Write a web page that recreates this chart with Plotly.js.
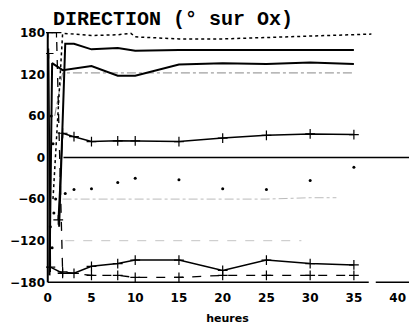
<!DOCTYPE html>
<html>
<head>
<meta charset="utf-8">
<script src="https://cdn.plot.ly/plotly-3.0.1.min.js"></script>
<style>html,body{margin:0;padding:0;background:#fff;}#chart{width:409px;height:327px;}</style>
</head>
<body>
<div id="chart"></div>
<script>
// hours (x) and direction in degrees (y)
const xTicks = [0, 5, 10, 15, 20, 25, 30, 35, 40];
const yTicks = [180, 120, 60, 0, -60, -120, -180];

const hA = [0.6, 1.7, 3, 5, 8, 9.5, 10, 15, 20, 25, 30, 35, 37];
const vA = [-60, 179, 178, 176, 177, 179, 174, 171, 171, 173, 176, 178, 178];

const hB = [1.3, 2, 3, 5, 8, 10, 15, 20, 25, 30, 35];
const vB = [-100, 164, 164, 156, 158, 154, 155, 155, 155, 156, 155];

const hC = [0.2, 0.5, 1.7, 5, 8, 10, 15, 20, 25, 30, 35];
const vC = [-170, 136, 126, 132, 118, 118, 134, 136, 135, 137, 135];

const hD = [0.8, 1.7, 2, 3, 5, 10, 15, 20, 25, 30, 35];
const vD = [60, 122, 122, 122, 122, 122, 122, 122, 123, 122, 122];

const hE = [1.2, 1.7, 3, 5, 8, 10, 15, 20, 25, 30, 35];
const vE = [-90, 35, 30, 23, 24, 24, 23, 28, 32, 34, 33];

const hZero = [1.8, 41.3];
const vZero = [0, 0];

const hG = [0.3, 0.5, 0.7, 0.9, 0.4, 0.6, 2, 3, 5, 8, 10, 15, 20, 25, 30, 35];
const vG = [-100, -130, -80, -60, 60, 20, -52, -46, -45, -36, -30, -32, -45, -46, -33, -14];

const hH = [1.7, 5, 8, 10, 15, 20, 25, 30, 33];
const vH = [-60, -60, -60, -60, -60, -60, -60, -58, -58];

const hH2 = [2, 5, 10, 15, 20, 25, 29];
const vH2 = [-120, -120, -120, -120, -120, -120, -120];

const hI = [0.1, 0.3, 1.7, 3, 5, 8, 10, 15, 20, 25, 30, 35];
const vI = [150, -158, -167, -167, -157, -153, -148, -148, -163, -148, -153, -155];

const hJ = [0, 1, 1.7, 5, 8, 10, 15, 20, 25, 30, 35];
const vJ = [180, 180, -165, -170, -170, -173, -173, -170, -170, -170, -170];

const hK = [0, 36.7, null, 37.5, 41.3];
const vK = [-180, -180, null, -180, -180];

const hL = [0, 0];
const vL = [-180, 180];

const cross = {symbol: 'cross-thin-open', size: 7, color: '#000', line: {width: 1.2, color: '#000'}};

const traces = [
  {x: hL, y: vL, mode: 'lines', line: {color: '#000', width: 2}},
  {x: hK, y: vK, mode: 'lines', line: {color: '#000', width: 1.5}, connectgaps: false},
  {x: hH, y: vH, mode: 'lines', line: {color: '#bbb', width: 1, dash: 'dashdot'}},
  {x: hH2, y: vH2, mode: 'lines', line: {color: '#c4c4c4', width: 1, dash: 'dash'}},
  {x: hD, y: vD, mode: 'lines', line: {color: '#888', width: 1, dash: 'dashdot'}},
  {x: hZero, y: vZero, mode: 'lines', line: {color: '#000', width: 1.5}},
  {x: hA, y: vA, mode: 'lines', line: {color: '#000', width: 1.5, dash: 'dot'}},
  {x: hB, y: vB, mode: 'lines', line: {color: '#000', width: 2}},
  {x: hC, y: vC, mode: 'lines', line: {color: '#000', width: 2}},
  {x: hE, y: vE, mode: 'lines+markers', line: {color: '#000', width: 1.5}, marker: cross},
  {x: hG, y: vG, mode: 'markers', marker: {symbol: 'circle', size: 3, color: '#000'}},
  {x: hI, y: vI, mode: 'lines+markers', line: {color: '#000', width: 1.5}, marker: cross},
  {x: hJ, y: vJ, mode: 'lines+markers', line: {color: '#000', width: 1.3, dash: 'dash'}, marker: cross}
];

const tickFont = {family: 'DejaVu Sans', size: 12, color: '#000', weight: 'bold'};

const layout = {
  width: 409, height: 327,
  margin: {l: 46, r: 0, t: 32, b: 44},
  paper_bgcolor: '#fff', plot_bgcolor: '#fff',
  showlegend: false,
  title: {text: 'DIRECTION (° sur Ox)', x: 0.423, xanchor: 'center', xref: 'container',
          y: 0.945, yanchor: 'middle', yref: 'container',
          font: {family: 'Liberation Mono', size: 20, color: '#000', weight: 'bold'}},
  xaxis: {range: [-0.2, 41.3], tickvals: xTicks, ticktext: xTicks.map(String),
          showgrid: false, zeroline: false, showline: false,
          ticks: 'outside', ticklen: 4, tickcolor: 'rgba(0,0,0,0)', tickfont: tickFont,
          title: {text: 'heures', standoff: 9, font: {family: 'DejaVu Sans', size: 11, color: '#000', weight: 'bold'}}},
  yaxis: {range: [-181, 181], tickvals: yTicks, ticktext: yTicks.map(v => v < 0 ? '\u2212' + Math.abs(v) : String(v)),
          showgrid: false, zeroline: false, showline: false,
          ticks: '', tickfont: tickFont}
};

Plotly.newPlot('chart', traces, layout, {displayModeBar: false, staticPlot: true});
</script>
</body>
</html>
